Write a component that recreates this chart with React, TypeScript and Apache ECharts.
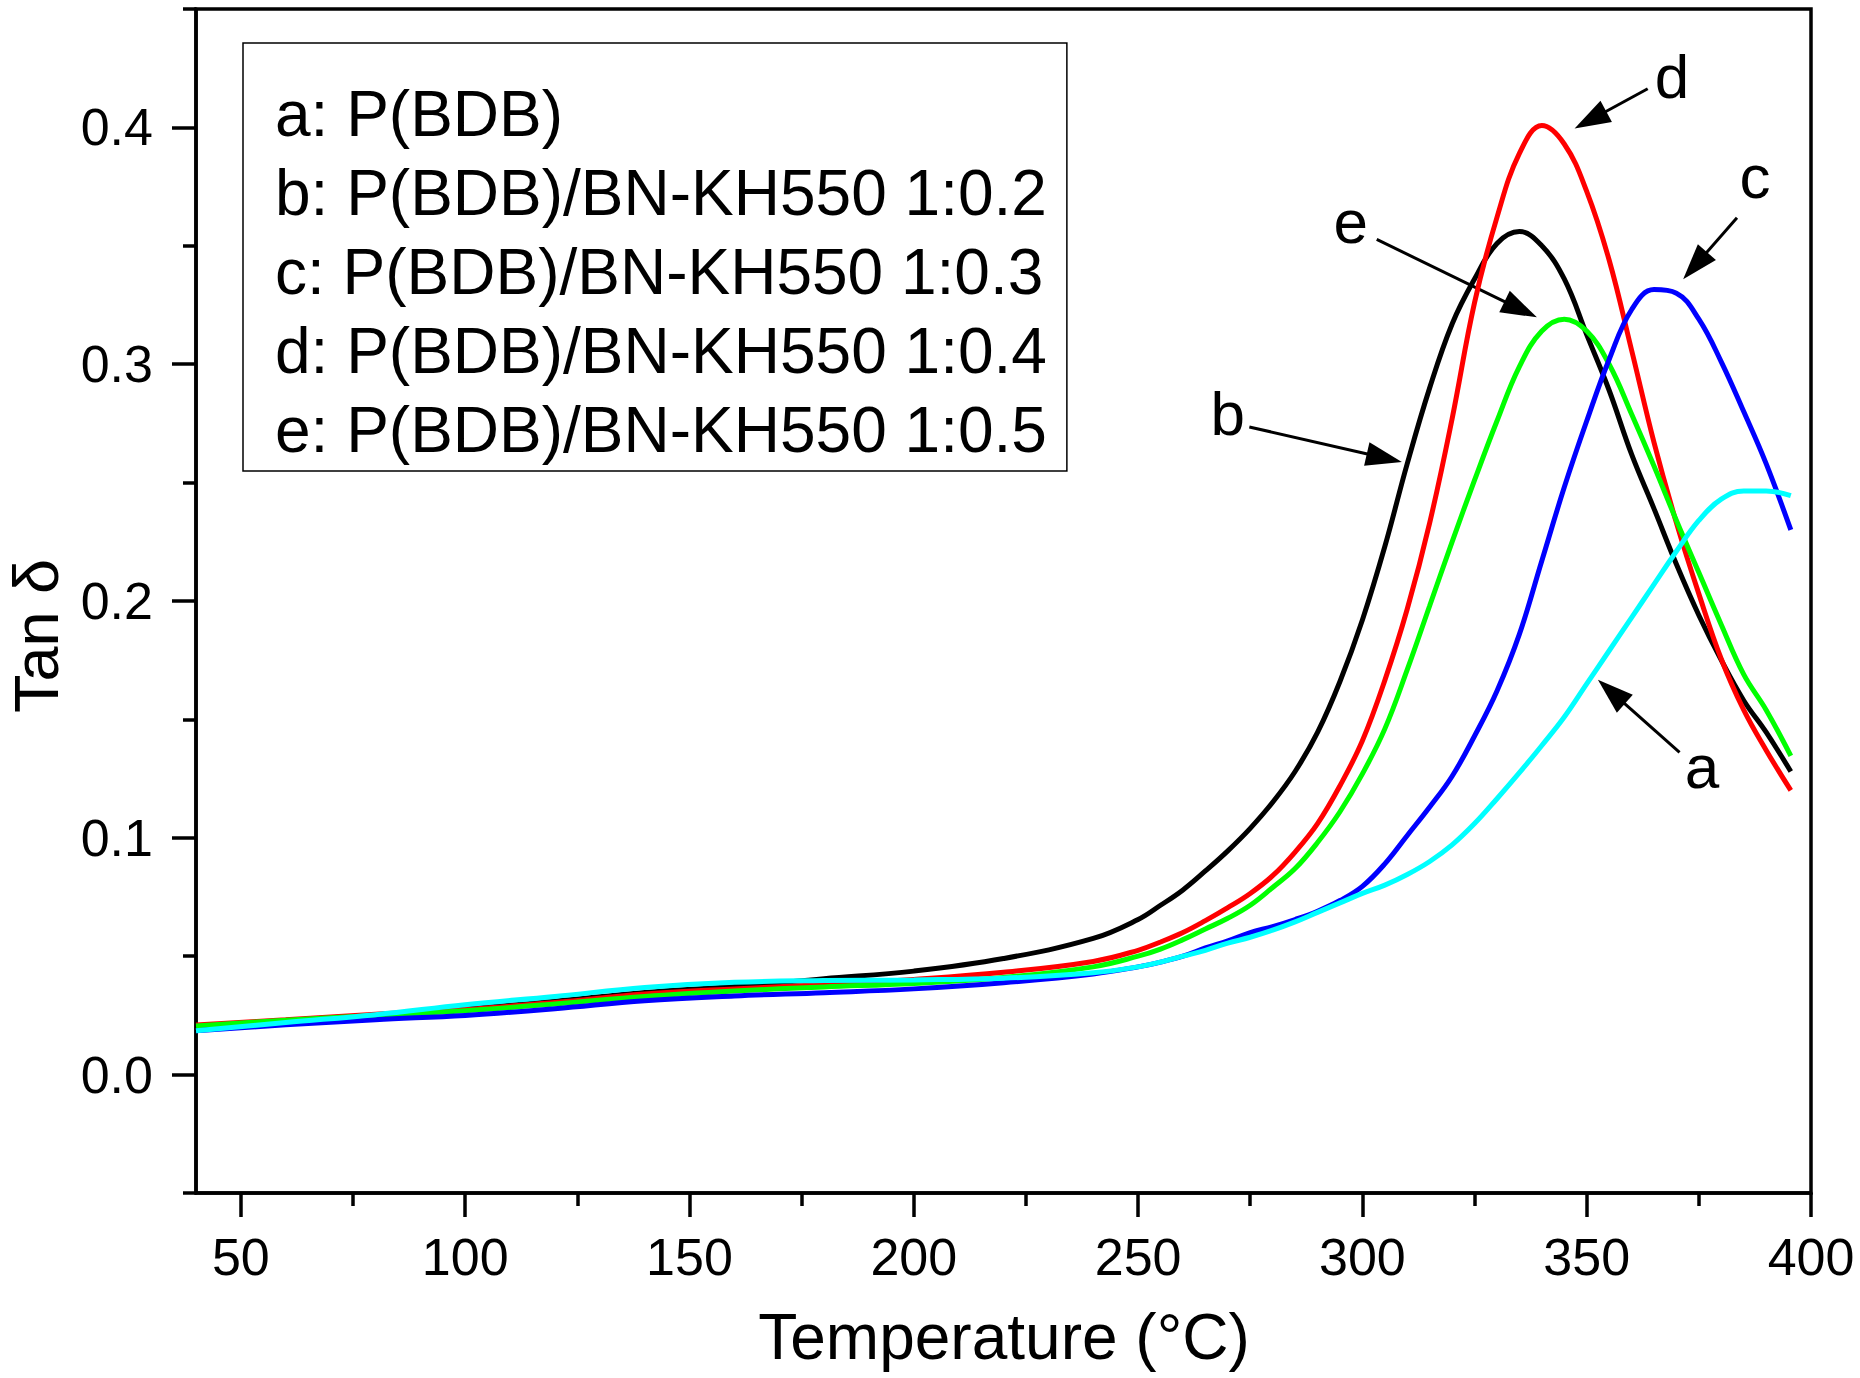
import React, { useRef, useEffect } from 'react';
import * as echarts from 'echarts';

const FONT = '"Liberation Sans", Arial, sans-serif';

// temperature (°C)
const temps = [
  40, 60, 80, 100, 120, 140, 160, 180, 200, 220, 240,
  250, 255, 260, 265, 270, 275, 280, 285, 290, 295, 300, 305, 310, 315, 320,
  325, 330, 335, 340, 345, 350, 355, 360, 365, 370, 375, 380, 385, 390, 395.5,
];

// tan delta values, one array per sample
const tanA = [
  0.0185, 0.022, 0.0253, 0.0295, 0.033, 0.0368, 0.039, 0.0397, 0.04, 0.0407, 0.043,
  0.0455, 0.0475, 0.05, 0.0525, 0.0555, 0.058, 0.061, 0.0645, 0.0685, 0.0725, 0.0765, 0.08, 0.0845, 0.09, 0.097,
  0.106, 0.1165, 0.1275, 0.139, 0.151, 0.165, 0.179, 0.193, 0.207, 0.221, 0.234, 0.243, 0.2465, 0.2465, 0.2445,
];
const tanB = [
  0.0205, 0.0228, 0.0252, 0.0277, 0.031, 0.0347, 0.0372, 0.0405, 0.0437, 0.049, 0.0575,
  0.0655, 0.0715, 0.078, 0.086, 0.0945, 0.104, 0.115, 0.128, 0.1445, 0.166, 0.192, 0.223, 0.258, 0.29, 0.317,
  0.336, 0.351, 0.356, 0.35, 0.336, 0.3125, 0.289, 0.262, 0.239, 0.2155, 0.194, 0.175, 0.158, 0.1446, 0.128,
];
const tanC = [
  0.0185, 0.021, 0.0232, 0.025, 0.0278, 0.0312, 0.0332, 0.0346, 0.0362, 0.0388, 0.0425,
  0.0455, 0.0475, 0.05, 0.0535, 0.0565, 0.06, 0.0625, 0.0655, 0.069, 0.0735, 0.0795, 0.089, 0.101, 0.113, 0.126,
  0.143, 0.162, 0.186, 0.217, 0.248, 0.276, 0.302, 0.323, 0.3315, 0.33, 0.319, 0.301, 0.28, 0.258, 0.23,
];
const tanD = [
  0.021, 0.0232, 0.0255, 0.0275, 0.0305, 0.034, 0.0362, 0.038, 0.0402, 0.0432, 0.0478,
  0.0525, 0.056, 0.06, 0.065, 0.0705, 0.0765, 0.084, 0.094, 0.106, 0.122, 0.141, 0.1665, 0.1966, 0.233, 0.277,
  0.326, 0.362, 0.389, 0.4008, 0.393, 0.373, 0.344, 0.306, 0.267, 0.233, 0.203, 0.1755, 0.154, 0.137, 0.12,
];
const tanE = [
  0.0205, 0.023, 0.025, 0.027, 0.0298, 0.033, 0.0353, 0.037, 0.0385, 0.041, 0.0455,
  0.05, 0.053, 0.057, 0.0615, 0.066, 0.0715, 0.079, 0.087, 0.098, 0.111, 0.127, 0.146, 0.171, 0.198, 0.225,
  0.251, 0.276, 0.299, 0.314, 0.319, 0.314, 0.3, 0.279, 0.257, 0.234, 0.212, 0.19, 0.169, 0.154, 0.1346,
];

const legendNames = [
  'a: P(BDB)',
  'b: P(BDB)/BN-KH550 1:0.2',
  'c: P(BDB)/BN-KH550 1:0.3',
  'd: P(BDB)/BN-KH550 1:0.4',
  'e: P(BDB)/BN-KH550 1:0.5',
];

const xTicks = [50, 100, 150, 200, 250, 300, 350, 400];
const xMinorTicks = [75, 125, 175, 225, 275, 325, 375];
const yTicks = [0, 0.1, 0.2, 0.3, 0.4];
const yMinorTicks = [-0.05, 0.05, 0.15, 0.25, 0.35, 0.45];

// arrow labels: letter, label position, arrow start, arrow tip (data coords)
const annoLabels = ['d', 'c', 'e', 'b', 'a'];
const annoText = [[369.0, 0.4214], [387.5, 0.3793], [297.4, 0.3603], [270.0, 0.279], [375.7, 0.130]];
const annoFrom = [[363.6, 0.4163], [383.5, 0.3618], [303.2, 0.3527], [274.8, 0.2735], [370.7, 0.1361]];
const annoTo = [[347.3, 0.3995], [371.5, 0.3359], [338.9, 0.3198], [308.8, 0.2587], [352.5, 0.1667]];

const toPairs = (vals: number[]) => temps.map((t, i) => [t, vals[i]]);

const App = () => {
  const chartRef = useRef(null);

  useEffect(() => {
    document.body.style.margin = '0';
    const myChart = echarts.init(chartRef.current, null, { renderer: 'svg' });

    const line = (name: string, vals: number[], color: string) => ({
      name,
      type: 'line',
      smooth: 0.4,
      smoothConstraint: false,
      symbol: 'none',
      lineStyle: { color, width: 5 },
      itemStyle: { color },
      data: toPairs(vals),
    });

    const tickStyle = { color: '#000', width: 3.5 };

    const option = {
      animation: false,
      backgroundColor: '#fff',
      grid: {
        left: 196,
        right: 49,
        top: 9,
        bottom: 185,
        show: true,
        borderColor: '#000',
        borderWidth: 3.5,
        outerBoundsMode: 'none',
      },
      legend: {
        data: legendNames,
        orient: 'vertical',
        left: 243,
        top: 43,
        icon: 'none',
        itemWidth: 0,
        itemHeight: 62,
        itemGap: 15,
        padding: [39, 20, 9, 27],
        borderColor: '#000',
        borderWidth: 1.5,
        selectedMode: false,
        textStyle: { fontSize: 64, color: '#000', fontFamily: FONT, lineHeight: 62 },
      },
      xAxis: [
        {
          type: 'value',
          min: 40,
          max: 400,
          axisLine: { onZero: false, lineStyle: tickStyle },
          axisTick: { customValues: xTicks, length: 24, lineStyle: tickStyle },
          axisLabel: { customValues: xTicks, fontSize: 52, color: '#000', fontFamily: FONT, margin: 38 },
          splitLine: { show: false },
        },
        {
          type: 'value',
          min: 40,
          max: 400,
          position: 'bottom',
          axisLine: { show: false, onZero: false },
          axisTick: { customValues: xMinorTicks, length: 13, lineStyle: tickStyle },
          axisLabel: { show: false },
          splitLine: { show: false },
        },
      ],
      yAxis: [
        {
          type: 'value',
          min: -0.05,
          max: 0.45,
          axisLine: { show: true, onZero: false, lineStyle: tickStyle },
          axisTick: { show: true, customValues: yTicks, length: 24, lineStyle: tickStyle },
          axisLabel: {
            customValues: yTicks,
            fontSize: 52,
            color: '#000',
            fontFamily: FONT,
            margin: 43,
            formatter: (v: number) => v.toFixed(1),
          },
          splitLine: { show: false },
        },
        {
          type: 'value',
          min: -0.05,
          max: 0.45,
          position: 'left',
          axisLine: { show: false, onZero: false },
          axisTick: { show: true, customValues: yMinorTicks, length: 13, lineStyle: tickStyle },
          axisLabel: { show: false },
          splitLine: { show: false },
        },
      ],
      series: [
        line(legendNames[1], tanB, '#000000'),
        line(legendNames[3], tanD, '#ff0000'),
        line(legendNames[4], tanE, '#00ff00'),
        line(legendNames[2], tanC, '#0000ff'),
        line(legendNames[0], tanA, '#00ffff'),
      ],
    };

    myChart.setOption(option);

    // arrows and letters placed through the axes' own scales
    const px = (p: number[]) => myChart.convertToPixel({ gridIndex: 0 }, p) as number[];
    const graphics: any[] = [];
    annoLabels.forEach((label, i) => {
      const t = px(annoText[i]);
      const a = px(annoFrom[i]);
      const b = px(annoTo[i]);
      const dx = b[0] - a[0];
      const dy = b[1] - a[1];
      const len = Math.sqrt(dx * dx + dy * dy);
      const ux = dx / len;
      const uy = dy / len;
      const headL = 36;
      const headW = 12;
      const bx = b[0] - ux * headL;
      const by = b[1] - uy * headL;
      graphics.push({
        type: 'line',
        shape: { x1: a[0], y1: a[1], x2: bx + ux * 4, y2: by + uy * 4 },
        style: { stroke: '#000', lineWidth: 3 },
      });
      graphics.push({
        type: 'polygon',
        shape: {
          points: [
            [b[0], b[1]],
            [bx - uy * headW, by + ux * headW],
            [bx + uy * headW, by - ux * headW],
          ],
        },
        style: { fill: '#000' },
      });
      graphics.push({
        type: 'text',
        x: t[0],
        y: t[1],
        style: {
          text: label,
          fontSize: 62,
          fontFamily: FONT,
          fill: '#000',
          align: 'center',
          verticalAlign: 'middle',
          textAlign: 'center',
          textVerticalAlign: 'middle',
        },
      });
    });

    // axis titles
    graphics.push({
      type: 'text',
      x: 1004,
      y: 1337,
      style: {
        text: 'Temperature (°C)',
        fontSize: 64,
        fontFamily: FONT,
        fill: '#000',
        align: 'center',
        verticalAlign: 'middle',
        textAlign: 'center',
        textVerticalAlign: 'middle',
      },
    });
    graphics.push({
      type: 'text',
      x: 36,
      y: 636,
      rotation: Math.PI / 2,
      style: {
        text: 'Tan δ',
        fontSize: 63,
        lineHeight: 56,
        fontFamily: FONT,
        fill: '#000',
        align: 'center',
        verticalAlign: 'middle',
        textAlign: 'center',
        textVerticalAlign: 'middle',
      },
    });

    myChart.setOption({ graphic: graphics });

    return () => {
      myChart.dispose();
    };
  }, []);

  return <div ref={chartRef} style={{ width: '1860px', height: '1378px' }} />;
};

export default App;
